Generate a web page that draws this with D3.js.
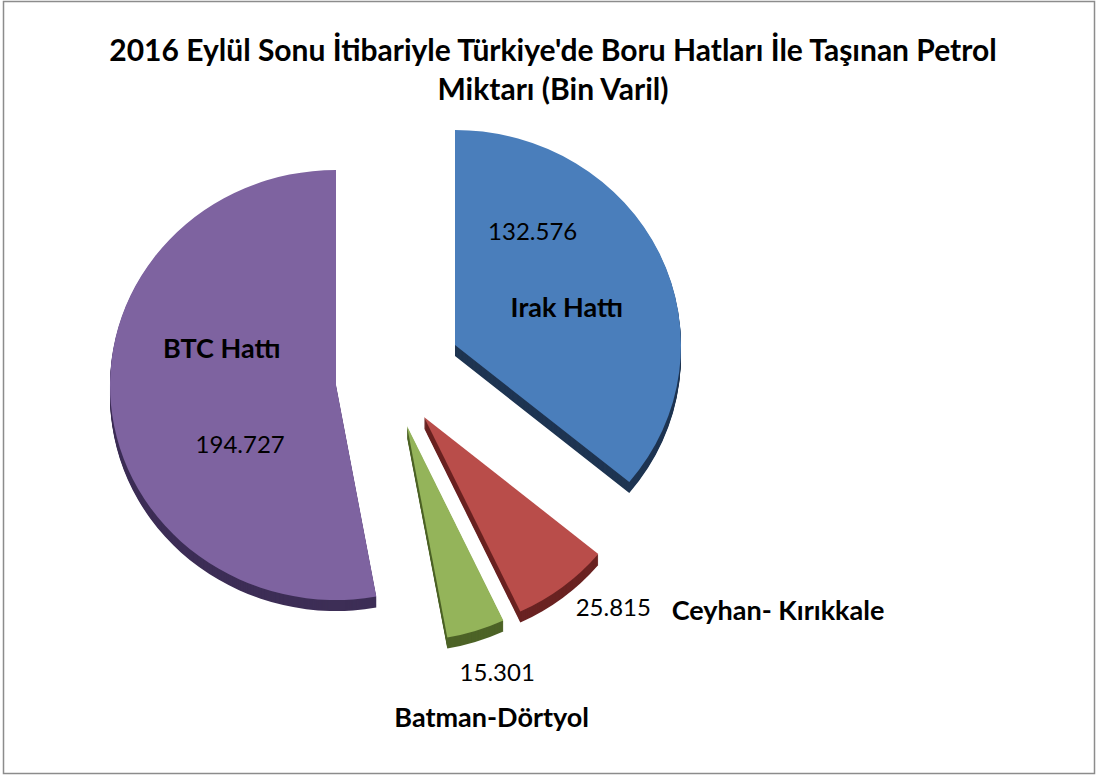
<!DOCTYPE html>
<html>
<head>
<meta charset="utf-8">
<script src="https://cdn.jsdelivr.net/npm/d3@7"></script>
<style>
  html, body { margin: 0; padding: 0; background: #fff; }
  svg text { font-family: Lato, "Open Sans", sans-serif; fill: #000; }
</style>
</head>
<body>
<div id="chart"></div>
<script>
// data
const lines = ["Irak Hattı", "Ceyhan- Kırıkkale", "Batman-Dörtyol", "BTC Hattı"];
const amounts = [132.576, 25.815, 15.301, 194.727];
const valueLabels = ["132.576", "25.815", "15.301", "194.727"];
const titleLines = ["2016 Eylül Sonu İtibariyle Türkiye'de Boru Hatları İle Taşınan Petrol", "Miktarı (Bin Varil)"];

// look
const topColors = ["#4a7ebb", "#b94d4a", "#94b45a", "#7e63a0"];
const sideColors = ["#1f3552", "#6a2322", "#4d6327", "#3d2e56"];
// per-slice explosion vector from the pie centre
const explode = [[60, -45], [29, 27], [12, 36], [-59, -5]];
// label placement: [angle deg, distance] from the slice tip
const namePos = [[70, 119], [119.8, 408], [164.5, 317], [289.2, 121]];
const valuePos = [[32.9, 143], [136.5, 275], [160.7, 273], [237.2, 114]];

const W = 1097, H = 776;
const cx = 395, cy = 390, rx = 226, ry = 215, depth = 11;
const k = ry / rx;

const svg = d3.select("#chart").append("svg")
    .attr("width", W)
    .attr("height", H);

// frame
svg.append("rect")
    .attr("x", 3.5).attr("y", 1.5)
    .attr("width", 1091).attr("height", 772)
    .attr("fill", "#fff")
    .attr("stroke", "#8c8c8c")
    .attr("stroke-width", 1.5);

// title
svg.selectAll(".title")
    .data(titleLines)
    .enter()
    .append("text")
    .attr("class", "title")
    .attr("x", 553)
    .attr("y", (d, i) => 61 + i * 39)
    .attr("text-anchor", "middle")
    .style("font-weight", "bold")
    .style("font-size", "30px")
    .text(d => d);

const pie = d3.pie().sort(null).value(d => d)(amounts);
const arc = d3.arc().innerRadius(0).outerRadius(rx);

const slices = svg.selectAll(".slice")
    .data(pie)
    .enter()
    .append("g")
    .attr("class", "slice");

// extruded side, stacked copies shifted down
slices.each(function(d, i) {
    const g = d3.select(this);
    const tx = cx + explode[i][0], ty = cy + explode[i][1];
    for (let s = depth; s >= 1; s--) {
        g.append("path")
            .attr("transform", `translate(${tx},${ty + s}) scale(1,${k})`)
            .attr("d", arc(d))
            .attr("fill", sideColors[i]);
    }
    g.append("path")
        .attr("transform", `translate(${tx},${ty}) scale(1,${k})`)
        .attr("d", arc(d))
        .attr("fill", topColors[i]);
});

function place(i, p) {
    const a = p[0] * Math.PI / 180;
    return [cx + explode[i][0] + p[1] * Math.sin(a), cy + explode[i][1] - k * p[1] * Math.cos(a)];
}

svg.selectAll(".name")
    .data(lines)
    .enter()
    .append("text")
    .attr("class", "name")
    .attr("x", (d, i) => place(i, namePos[i])[0])
    .attr("y", (d, i) => place(i, namePos[i])[1])
    .attr("text-anchor", "middle")
    .attr("dominant-baseline", "central")
    .style("font-weight", "bold")
    .style("font-size", "27px")
    .text(d => d);

svg.selectAll(".val")
    .data(valueLabels)
    .enter()
    .append("text")
    .attr("class", "val")
    .attr("x", (d, i) => place(i, valuePos[i])[0])
    .attr("y", (d, i) => place(i, valuePos[i])[1])
    .attr("text-anchor", "middle")
    .attr("dominant-baseline", "central")
    .style("font-size", "24px")
    .text(d => d);
</script>
</body>
</html>
